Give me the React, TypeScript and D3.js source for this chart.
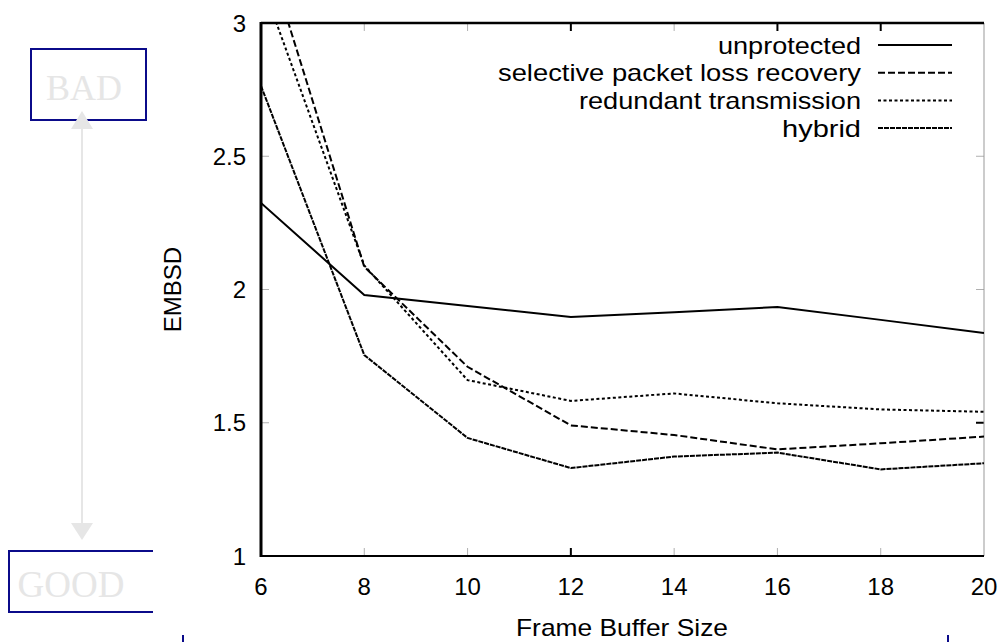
import React, { useEffect, useRef } from 'react';
import * as d3 from 'd3';

// Frame buffer sizes on the x axis
const bufferSizes = [6, 8, 10, 12, 14, 16, 18, 20];

// EMBSD per scheme
const unprotected = [2.325, 1.979, 1.938, 1.897, 1.915, 1.934, 1.886, 1.837];
const selectiveRecovery = [3.33, 2.085, 1.71, 1.49, 1.454, 1.4, 1.423, 1.448];
const redundantTransmission = [3.16, 2.09, 1.66, 1.582, 1.61, 1.573, 1.55, 1.541];
const hybrid = [2.764, 1.754, 1.443, 1.33, 1.373, 1.388, 1.325, 1.348];

const seriesNames = ['unprotected', 'selective packet loss recovery', 'redundant transmission', 'hybrid'];
const seriesValues = [unprotected, selectiveRecovery, redundantTransmission, hybrid];

const xTicks = [6, 8, 10, 12, 14, 16, 18, 20];
const yTicks = [1, 1.5, 2, 2.5, 3];

export default function App() {
  const svgRef = useRef<SVGSVGElement>(null);

  useEffect(() => {
    if (!svgRef.current) return;
    const svg = d3.select(svgRef.current);
    svg.selectAll('*').remove();

    const left = 261, right = 984, top = 23, bottom = 556;
    const font = '"Liberation Sans", Arial, sans-serif';

    const x = d3.scaleLinear().domain([6, 20]).range([left, right]);
    const y = d3.scaleLinear().domain([1, 3]).range([bottom, top]);

    svg.append('defs').append('clipPath').attr('id', 'plot-clip')
      .append('rect')
      .attr('x', left).attr('y', top)
      .attr('width', right - left).attr('height', bottom - top);

    // tick marks (inward, light gray like the original)
    const tickCol = '#b0b0b0';
    xTicks.slice(1, -1).forEach(t => {
      const dark = t === 12;
      svg.append('line').attr('x1', x(t)).attr('x2', x(t)).attr('y1', bottom).attr('y2', bottom - 8)
        .attr('stroke', dark ? '#000' : tickCol).attr('stroke-width', dark ? 2 : 1);
      const darkTop = t === 12 || t === 16 || t === 18;
      svg.append('line').attr('x1', x(t)).attr('x2', x(t)).attr('y1', top).attr('y2', top + 8)
        .attr('stroke', darkTop ? '#000' : tickCol).attr('stroke-width', darkTop ? 2 : 1);
    });
    yTicks.slice(1, -1).forEach(t => {
      svg.append('line').attr('x1', left).attr('x2', left + 8).attr('y1', y(t)).attr('y2', y(t))
        .attr('stroke', tickCol).attr('stroke-width', 1);
      const dark = t === 1.5;
      svg.append('line').attr('x1', right).attr('x2', right - 8).attr('y1', y(t)).attr('y2', y(t))
        .attr('stroke', dark ? '#000' : tickCol).attr('stroke-width', dark ? 2 : 1);
    });

    // frame
    svg.append('line').attr('x1', right).attr('x2', right).attr('y1', top).attr('y2', bottom)
      .attr('stroke', '#999').attr('stroke-width', 1);
    svg.append('line').attr('x1', left).attr('x2', right).attr('y1', top).attr('y2', top)
      .attr('stroke', '#000').attr('stroke-width', 2.5);
    svg.append('line').attr('x1', left).attr('x2', right).attr('y1', bottom).attr('y2', bottom)
      .attr('stroke', '#000').attr('stroke-width', 2);
    svg.append('line').attr('x1', left).attr('x2', left).attr('y1', top - 1).attr('y2', bottom + 1)
      .attr('stroke', '#000').attr('stroke-width', 3);

    // tick labels
    yTicks.forEach(t => {
      svg.append('text').attr('x', 246).attr('y', y(t)).attr('dy', '0.36em')
        .attr('text-anchor', 'end').attr('font-family', font).attr('font-size', 24)
        .text(String(t));
    });
    xTicks.forEach(t => {
      svg.append('text').attr('x', x(t)).attr('y', 595)
        .attr('text-anchor', 'middle').attr('font-family', font).attr('font-size', 24)
        .text(String(t));
    });

    // axis titles
    svg.append('text').attr('x', 622).attr('y', 636)
      .attr('text-anchor', 'middle').attr('font-family', font).attr('font-size', 24)
      .attr('textLength', 212).attr('lengthAdjust', 'spacingAndGlyphs')
      .text('Frame Buffer Size');
    svg.append('text').attr('transform', `translate(181,${(top + bottom) / 2}) rotate(-90)`)
      .attr('text-anchor', 'middle').attr('font-family', font).attr('font-size', 24)
      .text('EMBSD');

    // lines
    const dashes = [null, '7,3', '3,2.5', '5,1'];
    const line = d3.line<number>()
      .x((_, i) => x(bufferSizes[i]))
      .y(d => y(d));
    const plot = svg.append('g').attr('clip-path', 'url(#plot-clip)');
    seriesValues.forEach((vals, i) => {
      plot.append('path')
        .attr('d', line(vals))
        .attr('fill', 'none')
        .attr('stroke', '#000')
        .attr('stroke-width', 2)
        .attr('stroke-dasharray', dashes[i]);
    });

    // legend
    const legendWidths = [143, 363, 282, 79];
    seriesNames.forEach((name, i) => {
      const ly = 45 + i * 27.7;
      svg.append('text').attr('x', 861).attr('y', ly).attr('dy', '0.36em')
        .attr('text-anchor', 'end').attr('font-family', font).attr('font-size', 24)
        .attr('textLength', legendWidths[i]).attr('lengthAdjust', 'spacingAndGlyphs')
        .text(name);
      svg.append('line').attr('x1', 878).attr('x2', 952).attr('y1', ly).attr('y2', ly)
        .attr('stroke', '#000').attr('stroke-width', 2)
        .attr('stroke-dasharray', dashes[i]);
    });

    // BAD / GOOD quality scale on the left
    const navy = '#0b0b8a';
    const pale = '#e6e6e6';
    const serif = '"Liberation Serif", "Times New Roman", serif';
    svg.append('rect').attr('x', 31).attr('y', 49).attr('width', 115).attr('height', 71)
      .attr('fill', 'none').attr('stroke', navy).attr('stroke-width', 2);
    svg.append('text').attr('x', 84).attr('y', 100).attr('text-anchor', 'middle')
      .attr('font-family', serif).attr('font-size', 36).attr('fill', pale).text('BAD');

    svg.append('path').attr('d', 'M153,551 H9 V612 H153')
      .attr('fill', 'none').attr('stroke', navy).attr('stroke-width', 2);
    svg.append('text').attr('x', 71).attr('y', 597).attr('text-anchor', 'middle')
      .attr('font-family', serif).attr('font-size', 37).attr('fill', pale).text('GOOD');

    svg.append('line').attr('x1', 82).attr('x2', 82).attr('y1', 125).attr('y2', 528)
      .attr('stroke', pale).attr('stroke-width', 2);
    svg.append('path').attr('d', 'M82,111 L93,129 L71,129 Z').attr('fill', pale);
    svg.append('path').attr('d', 'M82,540 L93,523 L71,523 Z').attr('fill', pale);

    // small navy marks along the bottom edge
    [183, 948].forEach(mx => {
      svg.append('line').attr('x1', mx).attr('x2', mx).attr('y1', 635).attr('y2', 642)
        .attr('stroke', navy).attr('stroke-width', 2);
    });
  }, []);

  return (
    <div style={{ position: 'absolute', left: 0, top: 0 }}>
      <svg ref={svgRef} width={999} height={642} style={{ display: 'block', background: '#fff' }} />
    </div>
  );
}
